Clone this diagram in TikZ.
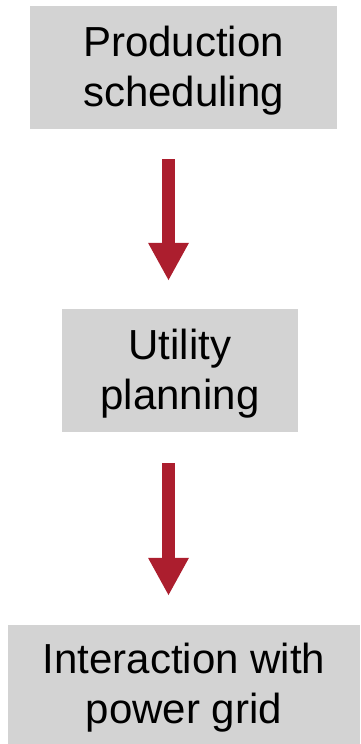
\documentclass[tikz,border=0pt]{standalone}
\usepackage{fontspec}
\setmainfont{Liberation Sans}
\usetikzlibrary{arrows.meta}
\definecolor{boxgray}{RGB}{211,211,211}
\definecolor{arrowred}{RGB}{172,30,46}
\newcommand{\topstrut}{\rule{0pt}{37pt}}
\begin{document}
\begin{tikzpicture}[x=1pt,y=1pt,
  stagebox/.style={fill=boxgray, draw=none, inner sep=0pt, align=center,
    font=\fontsize{42}{50.5}\selectfont},
  flowarrow/.style={draw=arrowred, line width=13pt,
    -{Triangle[length=38pt,width=38pt]}}]
\useasboundingbox (0,0) rectangle (360,744);
\node[stagebox, minimum width=307pt, minimum height=123pt] (b1) at (183.5,676.5) {\topstrut Production\\scheduling};
\node[stagebox, minimum width=236pt, minimum height=123pt] (b2) at (180,373.5) {\topstrut Utility\\planning};
\node[stagebox, minimum width=352pt, minimum height=119pt] (b3) at (184,59.5) {\topstrut Interaction with\\power grid};
\draw[flowarrow] ([xshift=-15pt,yshift=-30pt]b1.south) -- ([xshift=-11.5pt,yshift=28pt]b2.north);
\draw[flowarrow] ([xshift=-11.5pt,yshift=-31pt]b2.south) -- ([xshift=-15.5pt,yshift=29pt]b3.north);
\end{tikzpicture}
\end{document}
